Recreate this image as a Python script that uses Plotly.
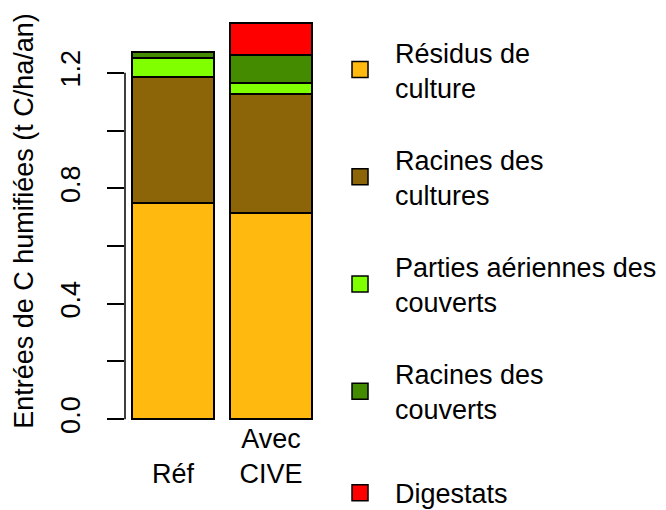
import plotly.graph_objects as go

categories = ["Réf", "Avec\nCIVE"]
x_pos = [0.7, 1.9]
series_names = ["Résidus de\nculture", "Racines des\ncultures", "Parties aériennes des\ncouverts",
                "Racines des\ncouverts", "Digestats"]
series_colors = ["#FFB90F", "#8B6508", "#7FFF00", "#458B00", "#FF0000"]
residus = [0.748, 0.713]
racines_cult = [0.436, 0.414]
aeriennes_couv = [0.066, 0.039]
racines_couv = [0.022, 0.097]
digestats = [0.0, 0.110]
series_values = [residus, racines_cult, aeriennes_couv, racines_couv, digestats]
y_tickvals = [0.0, 0.2, 0.4, 0.6, 0.8, 1.0, 1.2]
y_ticktext = ["0.0", "", "0.4", "", "0.8", "", "1.2"]

FONT = "Liberation Sans, Arial, sans-serif"
FS = 27

fig = go.Figure()
for i, (name, col, vals) in enumerate(zip(series_names, series_colors, series_values)):
    fig.add_trace(go.Bar(
        x=x_pos, y=vals, width=1.0, marker=dict(color=col, line=dict(color="black", width=2)),
        showlegend=False, name=name.replace("\n", " "),
    ))
for i, (name, col) in enumerate(zip(series_names, series_colors)):
    fig.add_trace(go.Scatter(
        x=[None], y=[None], mode="markers", name=name.replace("\n", "<br>"),
        marker=dict(symbol="square", size=16, color=col, line=dict(color="black", width=1.5)),
        legendgroup=f"g{i}", legend="legend2" if i == 4 else "legend",
    ))

totals = [sum(v[i] for v in series_values) for i in range(len(categories))]
ymax = max(totals)
pad = 0.04 * ymax

ticktext_x = []
for c in categories:
    lines = c.split("\n")
    lines = [""] * (2 - len(lines)) + lines
    ticktext_x.append("<br>".join(lines))

fig.update_layout(
    width=666, height=510,
    margin=dict(l=125, r=347, t=7, b=75, autoexpand=False),
    paper_bgcolor="white", plot_bgcolor="white",
    barmode="stack", bargap=0,
    font=dict(family=FONT, size=FS, color="black"),
    xaxis=dict(range=[0.112, 2.488], tickvals=x_pos, ticktext=ticktext_x, showgrid=False,
               zeroline=False, showline=False, ticks="", ticklabelstandoff=-15),
    yaxis=dict(range=[-pad, ymax + pad], tickvals=y_tickvals, ticktext=y_ticktext,
               tickangle=-90, ticks="outside", ticklen=17, tickwidth=1.5, tickcolor="black",
               showgrid=False, zeroline=False, showline=False, ticklabelstandoff=16,
               title=dict(text="Entrées de C humifiées (t C/ha/an)", standoff=14,
                          font=dict(size=FS))),
    legend=dict(x=1.031, y=0.951, xanchor="left", yanchor="top", traceorder="grouped",
                tracegroupgap=34, valign="middle", itemwidth=60, bgcolor="rgba(0,0,0,0)",
                font=dict(size=FS)),
    legend2=dict(x=1.031, y=-0.079, xanchor="left", yanchor="top", itemwidth=60,
                 bgcolor="rgba(0,0,0,0)", font=dict(size=FS)),
    shapes=[dict(type="line", xref="paper", yref="y", x0=0, x1=0,
                 y0=y_tickvals[0], y1=y_tickvals[-1], line=dict(color="black", width=1.5))],
)
fig.write_html("out.html", config={"displayModeBar": False},
               post_script="document.body.style.margin='0';")
